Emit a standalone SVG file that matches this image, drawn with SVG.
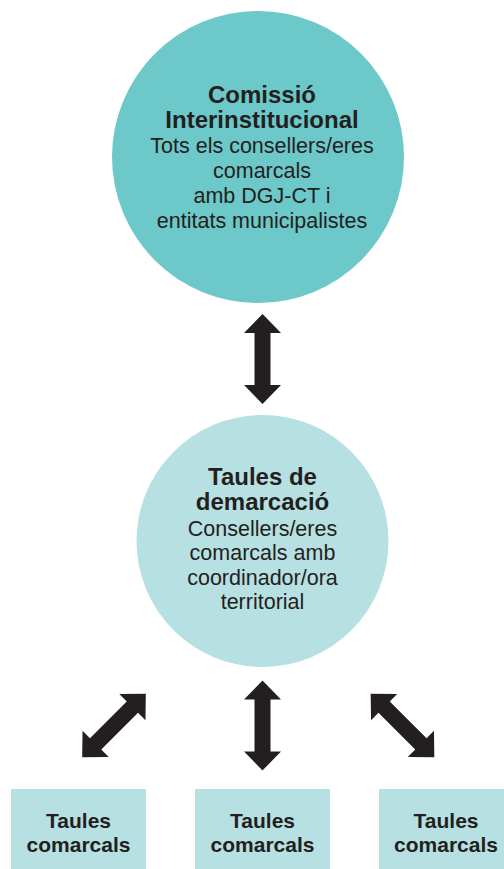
<svg xmlns="http://www.w3.org/2000/svg" width="504" height="869" viewBox="0 0 504 869">
<style>
.t{font-family:"Liberation Sans",Arial,sans-serif;fill:#231f20;text-anchor:middle}
.b{font-weight:bold}
.a{fill:#231f20}
</style>
<defs>
<path id="arr" d="M0,-45 L18.5,-26 L8,-26 L8,26 L18.5,26 L0,45 L-18.5,26 L-8,26 L-8,-26 L-18.5,-26 Z"/>
</defs>
<rect width="504" height="869" fill="#ffffff"/>
<g id="comissio">
<circle cx="258" cy="157" r="146" fill="#6cc8c9"/>
<text class="t b" font-size="24" x="262" y="103">Comissió</text>
<text class="t b" font-size="24" x="262" y="128">Interinstitucional</text>
<text class="t" font-size="21.5" x="262" y="153">Tots els consellers/eres</text>
<text class="t" font-size="21.5" x="262" y="178">comarcals</text>
<text class="t" font-size="21.5" x="262" y="203">amb DGJ-CT i</text>
<text class="t" font-size="21.5" x="262" y="228">entitats municipalistes</text>
</g>
<g id="demarcacio">
<circle cx="262.5" cy="541" r="126" fill="#b7e0e2"/>
<text class="t b" font-size="24" x="262.5" y="485">Taules de</text>
<text class="t b" font-size="24" x="262.5" y="510">demarcació</text>
<text class="t" font-size="21.5" x="262.5" y="536">Consellers/eres</text>
<text class="t" font-size="21.5" x="262.5" y="560">comarcals amb</text>
<text class="t" font-size="21.5" x="262.5" y="585">coordinador/ora</text>
<text class="t" font-size="21.5" x="262.5" y="609">territorial</text>
</g>
<g id="comarcals1">
<rect x="11" y="789" width="135" height="80" fill="#b7e0e2"/>
<text class="t b" font-size="21" x="78.5" y="828">Taules</text>
<text class="t b" font-size="21" x="78.5" y="852">comarcals</text>
</g>
<g id="comarcals2">
<rect x="195" y="789" width="135" height="80" fill="#b7e0e2"/>
<text class="t b" font-size="21" x="262.5" y="828">Taules</text>
<text class="t b" font-size="21" x="262.5" y="852">comarcals</text>
</g>
<g id="comarcals3">
<rect x="379" y="789" width="135" height="80" fill="#b7e0e2"/>
<text class="t b" font-size="21" x="446" y="828">Taules</text>
<text class="t b" font-size="21" x="446" y="852">comarcals</text>
</g>
<g id="connectors" class="a">
<use href="#arr" transform="translate(262.5,359)"/>
<use href="#arr" transform="translate(262.5,725.5)"/>
<use href="#arr" transform="translate(114,725.5) rotate(45)"/>
<use href="#arr" transform="translate(402.5,725.5) rotate(-45)"/>
</g>
</svg>
